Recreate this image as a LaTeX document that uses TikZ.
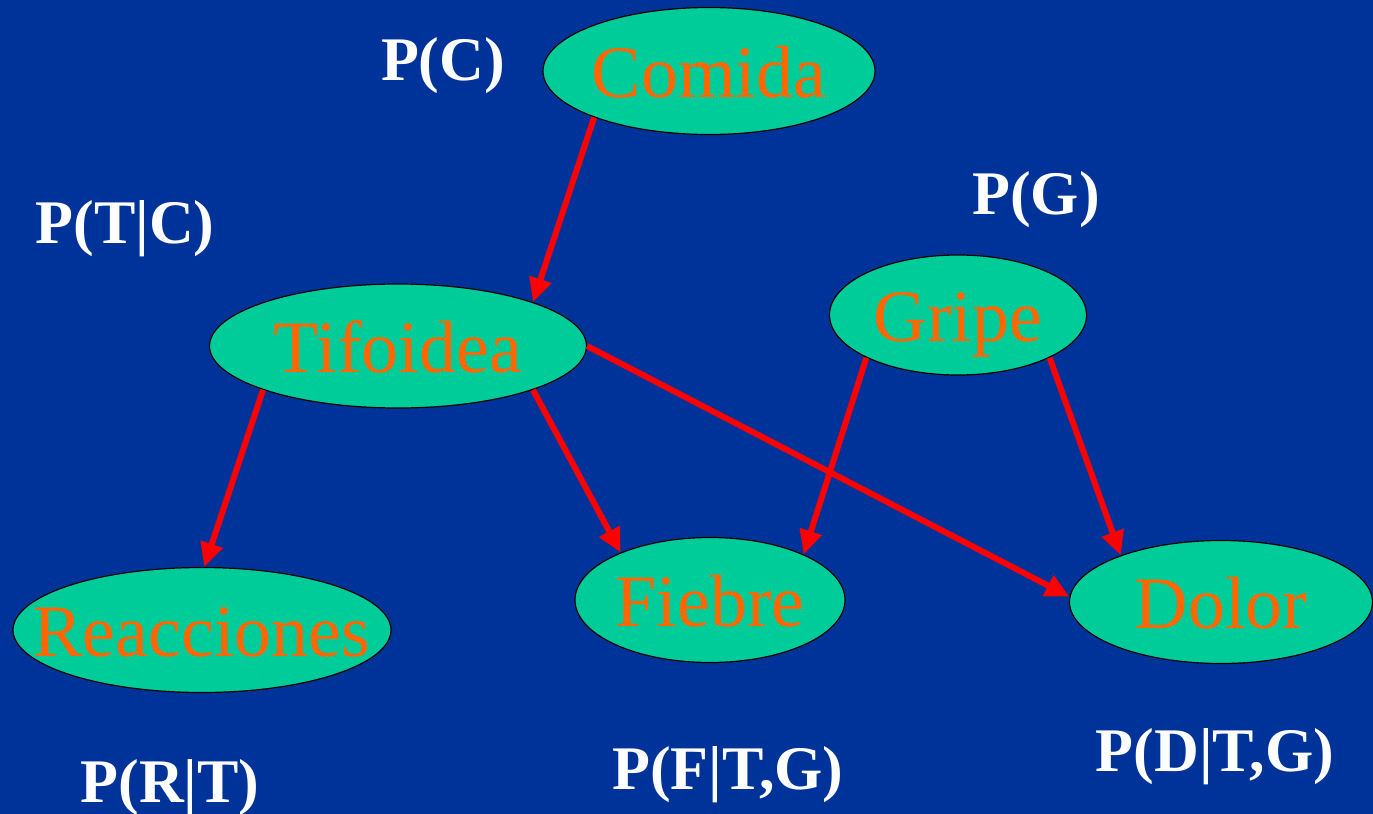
\documentclass[tikz,border=0pt]{standalone}
\usepackage{fontspec}
\setmainfont{Liberation Serif}
\usetikzlibrary{arrows.meta, positioning, shapes.geometric}
\definecolor{fondo}{HTML}{003399}
\definecolor{verde}{HTML}{00CC99}
\definecolor{naranja}{HTML}{FF6600}
\newcommand{\nombre}[1]{\makebox[0pt]{\raisebox{-13pt}[0pt][0pt]{#1}}} % text does not resize the ellipse
\tikzset{
  var/.style={
	ellipse, % the shape of each variable
	draw=black, line width=0.6pt,
	fill=verde,
	text=naranja,
	inner sep=0pt,
	font=\fontsize{37}{40}\selectfont, % large serif text
  },
  prob/.style={
	text=white, anchor=base, % labels are placed on their baseline
	font=\fontsize{31}{34}\selectfont\bfseries,
  },
  flecha/.style={
	-{Triangle[length=12pt, width=11pt]}, % arrow head
	draw=red, line width=3pt,
  }
}
\begin{document}
\begin{tikzpicture}[x=0.5pt, y=-0.5pt]
	\fill[fondo] (0,0) rectangle (1373,814);
	\useasboundingbox (0,0) rectangle (1373,814);

	\node[var, minimum width=166pt, minimum height=63.5pt] (comida) at (709,71) {\nombre{Comida}};
	\node[var, minimum width=188.5pt, minimum height=62pt] (tifoidea) at (398,346) {\nombre{Tifoidea}};
	\node[var, minimum width=128.5pt, minimum height=60pt] (gripe) at (958,315) {\nombre{Gripe}};
	\node[var, minimum width=189pt, minimum height=62.5pt] (reacciones) at (202,630) {\nombre{Reacciones}};
	\node[var, minimum width=135pt, minimum height=62.5pt] (fiebre) at (710,600) {\nombre{Fiebre}};
	\node[var, minimum width=151.5pt, minimum height=61.5pt] (dolor) at (1221,602) {\nombre{Dolor}};

	\node[prob] (pc) at (443,80) {P(C)};
	\node[prob] (ptc) at (125,243) {P(T|C)};
	\node[prob] (pg) at (1036,214) {P(G)};
	\node[prob] (prt) at (170,802) {P(R|T)};
	\node[prob] (pftg) at (728,789) {P(F|T,G)};
	\node[prob] (pdtg) at (1215,771) {P(D|T,G)};

	\draw[flecha] (comida.202) -- (tifoidea.18);
	\draw[flecha] (tifoidea.198) -- (reacciones.88);
	\draw[flecha] (tifoidea.342) -- (fiebre.152);
	\draw[flecha] (tifoidea.0) -- (dolor.178);
	\draw[flecha] (gripe.205) -- (fiebre.26);
	\draw[flecha] (gripe.335) -- (dolor.155);
\end{tikzpicture}
\end{document}
